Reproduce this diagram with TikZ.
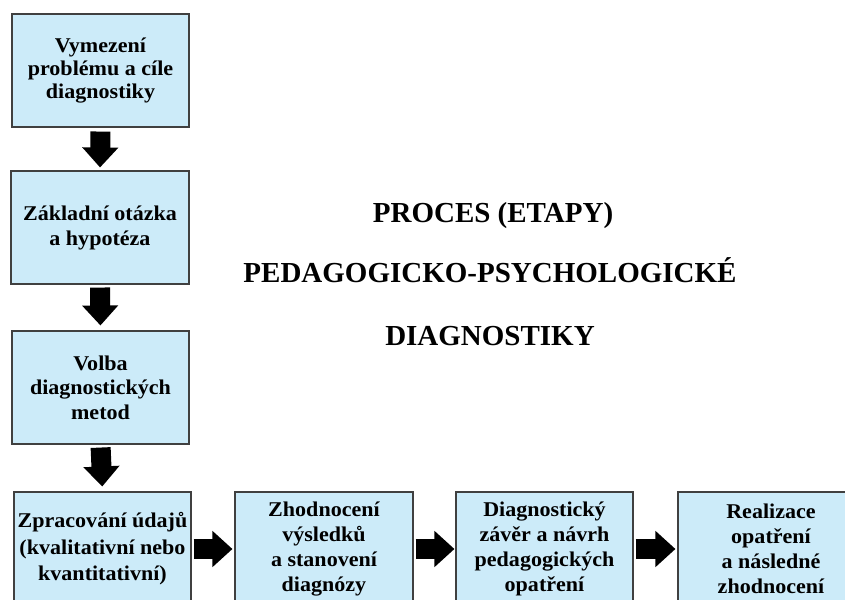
\documentclass[tikz,border=0pt]{standalone}
\usepackage{fontspec}
\setmainfont{Liberation Serif}
\newfontfamily\boxfont{Liberation Serif}[FakeStretch=1.05]
\usetikzlibrary{arrows.meta}
\definecolor{boxfill}{RGB}{204,235,249}
\definecolor{boxline}{RGB}{64,64,64}
\begin{document}
\begin{tikzpicture}[x=1pt,y=1pt,
  stepbox/.style={draw=boxline, line width=1.1pt, fill=boxfill, align=center,
    inner sep=0pt, minimum height=113pt,
    font=\boxfont\fontsize{21}{24.5}\selectfont\bfseries},
  blockarrow/.style={line width=20pt, black,
    -{Triangle[length=20pt,width=35pt]}},
  titletext/.style={anchor=base, font=\fontsize{29}{36}\selectfont\bfseries}
  ]
\useasboundingbox (0,0) rectangle (845,-599);
\clip (0,0) rectangle (845,-599);
\fill[white] (0,0) rectangle (845,-599);

\node[stepbox, minimum width=177pt, font=\boxfont\fontsize{21}{23}\selectfont\bfseries] (b1) at (100.5,-70.5) {Vymezení\\problému a cíle\\diagnostiky};
\node[stepbox, minimum width=178pt, font=\boxfont\fontsize{21}{25}\selectfont\bfseries] (b2) at (100,-227.5) {Základní otázka\\a hypotéza};
\node[stepbox, minimum width=177pt] (b3) at (100.5,-387.5) {Volba\\diagnostických\\metod};
\node[stepbox, minimum width=177pt, minimum height=114pt, font=\boxfont\fontsize{21}{26.5}\selectfont\bfseries] (b4) at (102.5,-549) {Zpracování údajů\\(kvalitativní nebo\\kvantitativní)};
\node[stepbox, minimum width=178pt, minimum height=114pt, font=\boxfont\fontsize{21}{25}\selectfont\bfseries] (b5) at (324,-549) {Zhodnocení\\výsledků\\a stanovení\\diagnózy};
\node[stepbox, minimum width=177pt, minimum height=114pt, font=\boxfont\fontsize{21}{25}\selectfont\bfseries] (b6) at (544.5,-549) {Diagnostický\\závěr a návrh\\pedagogických\\opatření};
\node[stepbox, minimum width=186pt, minimum height=114pt, font=\boxfont\fontsize{21}{25}\selectfont\bfseries] (b7) at (771,-549) {Realizace\\opatření\\a následné\\zhodnocení};

\draw[blockarrow, shorten <=4pt, shorten >=3pt] (b1.south) -- (b2.north);
\draw[blockarrow, shorten <=3pt, shorten >=5pt] (b2.south) -- (b3.north);
\draw[blockarrow, shorten <=3pt, shorten >=5pt] (b3.south) -- (b4.north);
\draw[blockarrow, shorten <=2pt, shorten >=2pt] (b4.east) -- (b5.west);
\draw[blockarrow, shorten <=2pt, shorten >=1pt] (b5.east) -- (b6.west);
\draw[blockarrow, shorten <=2pt, shorten >=2pt] (b6.east) -- (b7.west);

\node[titletext] (t1) at (493,-222) {PROCES (ETAPY)};
\node[titletext] (t2) at (490,-282) {PEDAGOGICKO-PSYCHOLOGICKÉ};
\node[titletext] (t3) at (490,-345) {DIAGNOSTIKY};
\end{tikzpicture}
\end{document}
